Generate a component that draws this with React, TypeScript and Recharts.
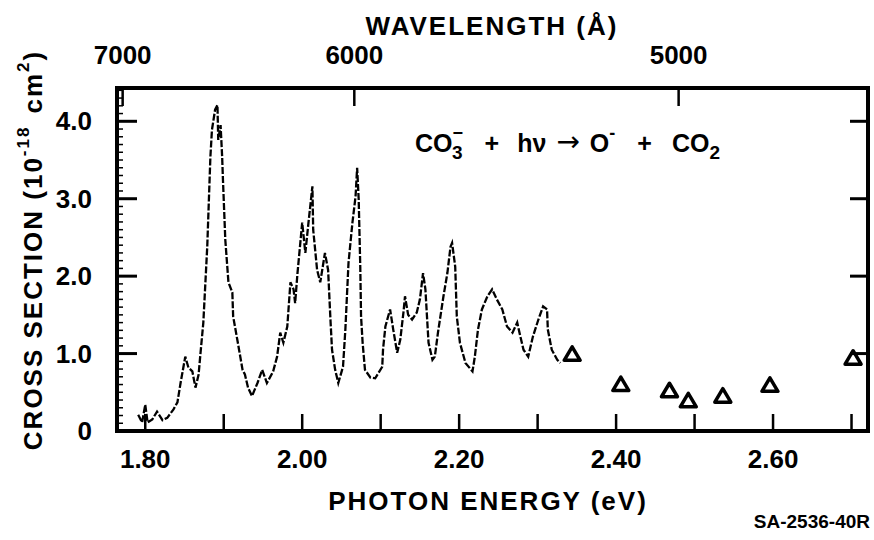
import React from 'react';
import { ComposedChart, Line, Scatter, XAxis, YAxis, ReferenceArea, Customized } from 'recharts';

// photodissociation spectrum (photon energy in eV, cross section in 1e-18 cm2)
const spectrumEnergy = [
  1.791, 1.796, 1.8, 1.803, 1.809, 1.815, 1.822, 1.828, 1.836, 1.841, 1.845, 1.851, 1.855, 1.86, 1.864,
  1.868, 1.87, 1.874, 1.879, 1.883, 1.885, 1.889, 1.892, 1.893, 1.896, 1.898, 1.899, 1.902, 1.906, 1.911,
  1.912, 1.915, 1.918, 1.924, 1.927, 1.931, 1.936, 1.943, 1.949, 1.955, 1.963, 1.968, 1.972, 1.976, 1.981,
  1.985, 1.989, 1.991, 1.994, 2.0, 2.004, 2.008, 2.013, 2.014, 2.019, 2.023, 2.029, 2.033, 2.036, 2.038,
  2.042, 2.046, 2.052, 2.055, 2.059, 2.064, 2.068, 2.07, 2.072, 2.074, 2.075, 2.077, 2.08, 2.087, 2.093,
  2.102, 2.103, 2.106, 2.112, 2.116, 2.121, 2.125, 2.129, 2.131, 2.135, 2.14, 2.146, 2.15, 2.154, 2.157,
  2.159, 2.161, 2.166, 2.169, 2.173, 2.18, 2.185, 2.189, 2.191, 2.195, 2.197, 2.201, 2.208, 2.217, 2.22,
  2.224, 2.229, 2.236, 2.242, 2.248, 2.255, 2.261, 2.268, 2.274, 2.278, 2.282, 2.288, 2.294, 2.301, 2.307,
  2.312, 2.313, 2.318, 2.325, 2.329,
];
const spectrumValue = [
  0.21, 0.11, 0.34, 0.11, 0.15, 0.25, 0.14, 0.17, 0.28, 0.37, 0.62, 0.96, 0.82, 0.77, 0.56,
  0.73, 0.96, 1.4, 2.38, 3.54, 3.89, 4.15, 4.21, 3.76, 3.95, 3.54, 3.25, 2.47, 1.92, 1.79,
  1.48, 1.31, 1.14, 0.79, 0.73, 0.56, 0.45, 0.62, 0.79, 0.62, 0.77, 0.96, 1.27, 1.14, 1.35,
  1.92, 1.83, 1.65, 2.04, 2.69, 2.3, 2.69, 3.16, 2.6, 2.08, 1.92, 2.3, 2.08, 1.44, 1.05,
  0.79, 0.62, 0.83, 1.31, 2.17, 2.69, 3.03, 3.4, 2.99, 2.12, 1.48, 1.14, 0.79, 0.69, 0.68,
  0.83, 1.05, 1.35, 1.57, 1.31, 1.01, 1.18, 1.53, 1.74, 1.5, 1.44, 1.53, 1.7, 2.04, 1.83,
  1.48, 1.14, 0.92, 0.96, 1.27, 1.74, 2.04, 2.38, 2.43, 2.12, 1.48, 1.14, 0.88, 0.77, 0.96,
  1.31, 1.57, 1.74, 1.83, 1.7, 1.57, 1.35, 1.27, 1.4, 1.22, 1.05, 0.96, 1.22, 1.44, 1.61,
  1.57, 1.31, 1.05, 0.92, 0.88,
];

// open triangles
const triangleEnergy = [2.344, 2.406, 2.468, 2.492, 2.536, 2.596, 2.702];
const triangleValue = [0.99, 0.6, 0.52, 0.39, 0.45, 0.59, 0.94];

// axes
const energyTicks = [1.8, 1.9, 2.0, 2.1, 2.2, 2.3, 2.4, 2.5, 2.6, 2.7];
const energyLabels = ['1.80', '', '2.00', '', '2.20', '', '2.40', '', '2.60', ''];
const wavelengthTicks = [7000, 6000, 5000];
const crossTicks = Array.from({ length: 45 }, (_, i) => i / 10);
const crossLabels: Record<number, string> = { 0: '0', 1: '1.0', 2: '2.0', 3: '3.0', 4: '4.0' };
const rightTicks = [1, 2, 3, 4];

const HC = 12398.4; // eV*Angstrom
const X_DOMAIN: [number, number] = [1.764, 2.721];
const Y_DOMAIN: [number, number] = [0, 4.43];

const spectrum = spectrumEnergy.map((e, i) => ({ e, v: spectrumValue[i] }));
const triangles = triangleEnergy.map((e, i) => ({ e, v: triangleValue[i] }));

const FONT = '"Liberation Sans", Arial, sans-serif';
const txt = { fontFamily: FONT, fontWeight: 700, fill: '#000' } as const;

const LeftTick = (props: any) => {
  const { x, y, payload } = props;
  const v = payload.value;
  const major = Math.abs(v - Math.round(v)) < 1e-6;
  return (
    <g>
      <line x1={x} x2={x + (major ? 20 : 6)} y1={y} y2={y} stroke="#000" strokeWidth={major ? 3 : 1.5} />
      {major && (
        <text x={x - 25} y={y + 9} textAnchor="end" fontSize={26} {...txt}>
          {crossLabels[Math.round(v)]}
        </text>
      )}
    </g>
  );
};

const RightTick = (props: any) => {
  const { x, y } = props;
  return <line x1={x} x2={x - 18} y1={y} y2={y} stroke="#000" strokeWidth={3} />;
};

const BottomTick = (props: any) => {
  const { x, y, index } = props;
  return (
    <g>
      <line x1={x} x2={x} y1={y} y2={y - 17} stroke="#000" strokeWidth={2.5} />
      <text x={x} y={y + 37} textAnchor="middle" fontSize={26} {...txt}>
        {energyLabels[index]}
      </text>
    </g>
  );
};

const TopTick = (props: any) => {
  const { x, y, index } = props;
  return (
    <g>
      <line x1={x} x2={x} y1={y} y2={y + 18} stroke="#000" strokeWidth={2.5} />
      <text x={x} y={y - 24} textAnchor="middle" fontSize={26} {...txt}>
        {wavelengthTicks[index]}
      </text>
    </g>
  );
};

const Triangle = (props: any) => {
  const { cx, cy } = props;
  return (
    <path
      d={`M${cx},${cy - 7.5} L${cx + 8},${cy + 6} L${cx - 8},${cy + 6} Z`}
      fill="#fff"
      stroke="#000"
      strokeWidth={3.5}
      strokeLinejoin="round"
    />
  );
};

const Nothing = () => <g />;

const Texts = () => (
  <g>
    <text x={492} y={35} textAnchor="middle" fontSize={26} letterSpacing={2} {...txt}>
      WAVELENGTH (Å)
    </text>
    <text x={488} y={510} textAnchor="middle" fontSize={26} letterSpacing={2} {...txt}>
      PHOTON ENERGY (eV)
    </text>
    <text x={870} y={528} textAnchor="end" fontSize={19} {...txt}>
      SA-2536-40R
    </text>
    <text
      x={33}
      y={250}
      transform="rotate(-90, 33, 250)"
      textAnchor="middle"
      fontSize={26}
      letterSpacing={2}
      dominantBaseline="central"
      {...txt}
    >
      CROSS SECTION (10
      <tspan dy={-10} fontSize={17}>-18</tspan>
      <tspan dy={10} dx={12}>cm</tspan>
      <tspan dy={-10} fontSize={17}>2</tspan>
      <tspan dy={10}>)</tspan>
    </text>
    <text x={415} y={152} fontSize={25} {...txt}>
      CO
      <tspan dy={-13} fontSize={18}>−</tspan>
      <tspan dx={-11} dy={20} fontSize={19}>3</tspan>
      <tspan dx={22} dy={-7}>+</tspan>
      <tspan dx={18}>hν</tspan>
      <tspan dx={10} dy={-1} fontFamily="DejaVu Sans" fontWeight={400} fontSize={28}>→</tspan>
      <tspan dx={10} dy={1}>O</tspan>
      <tspan dy={-13} fontSize={18}>-</tspan>
      <tspan dx={22} dy={13}>+</tspan>
      <tspan dx={20}>CO</tspan>
      <tspan dy={7} fontSize={19}>2</tspan>
    </text>
  </g>
);

export default function App() {
  return (
    <div style={{ position: 'absolute', left: 0, top: 0, background: '#fff' }}>
      <ComposedChart width={874} height={540} margin={{ top: 48, right: 5, bottom: 69, left: 0 }}>
        <XAxis
          xAxisId="b"
          type="number"
          dataKey="e"
          domain={X_DOMAIN}
          allowDataOverflow
          ticks={energyTicks}
          interval={0}
          height={40}
          tickSize={0}
          tickMargin={0}
          tickLine={false}
          tick={<BottomTick />}
          stroke="#000"
          strokeWidth={4}
        />
        <XAxis
          xAxisId="t"
          orientation="top"
          type="number"
          dataKey="e"
          domain={X_DOMAIN}
          allowDataOverflow
          ticks={wavelengthTicks.map((w) => HC / w)}
          interval={0}
          height={40}
          tickSize={0}
          tickMargin={0}
          tickLine={false}
          tick={<TopTick />}
          stroke="#000"
          strokeWidth={4}
        />
        <YAxis
          yAxisId="l"
          type="number"
          domain={Y_DOMAIN}
          allowDataOverflow
          ticks={crossTicks}
          interval={0}
          width={117}
          tickSize={0}
          tickMargin={0}
          tickLine={false}
          tick={<LeftTick />}
          stroke="#000"
          strokeWidth={4}
        />
        <YAxis
          yAxisId="r"
          orientation="right"
          type="number"
          domain={Y_DOMAIN}
          allowDataOverflow
          ticks={rightTicks}
          interval={0}
          width={1}
          tickSize={0}
          tickMargin={0}
          tickLine={false}
          tick={<RightTick />}
          stroke="#000"
          strokeWidth={4}
        />
        <ReferenceArea
          xAxisId="b"
          yAxisId="l"
          x1={X_DOMAIN[0]}
          x2={X_DOMAIN[1]}
          y1={Y_DOMAIN[0]}
          y2={Y_DOMAIN[1]}
          fill="none"
          fillOpacity={0}
          stroke="#000"
          strokeWidth={4}
          ifOverflow="visible"
        />
        <Line
          data={spectrum}
          xAxisId="b"
          yAxisId="l"
          dataKey="v"
          type="linear"
          stroke="#000"
          strokeWidth={2.3}
          strokeDasharray="7 2"
          dot={false}
          isAnimationActive={false}
        />
        <Scatter
          data={triangles}
          xAxisId="b"
          yAxisId="l"
          dataKey="v"
          shape={Triangle}
          isAnimationActive={false}
        />
        {/* keeps the wavelength axis alive */}
        <Scatter
          data={triangles}
          xAxisId="t"
          yAxisId="r"
          dataKey="v"
          shape={Nothing}
          isAnimationActive={false}
        />
        <Customized component={Texts} />
      </ComposedChart>
    </div>
  );
}
